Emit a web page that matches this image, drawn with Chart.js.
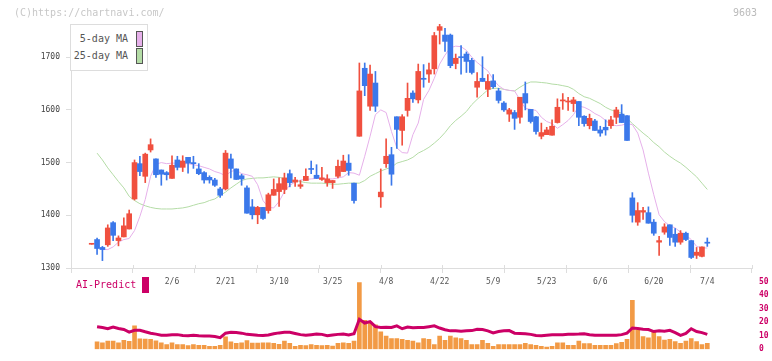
<!DOCTYPE html>
<html>
<head>
<meta charset="utf-8">
<script src="https://cdn.jsdelivr.net/npm/chart.js@4.4.1/dist/chart.umd.min.js"></script>
<style>
  body { margin: 0; background: #fff; }
  #wrap { position: relative; width: 772px; height: 361px; overflow: hidden; font-family: "DejaVu Sans Mono", monospace; }
  canvas { position: absolute; left: 0; }
  #priceChart { top: 0; }
  #volChart { top: 270px; }
  .txt { position: absolute; font-size: 10px; line-height: 12px; white-space: nowrap; }
  #copy { left: 14px; top: 7px; color: #c8c8c8; }
  #code { left: 733px; top: 7px; color: #bbb; }
  #legend { position: absolute; left: 70px; top: 24px; width: 78px; height: 47px; box-sizing: border-box;
            border: 1px solid #ddd; background: #fff; }
  .lg-text { position: absolute; right: 19px; font-size: 10px; line-height: 12px; color: #555; }
  .lg-box { position: absolute; left: 65px; width: 7px; height: 16px; box-sizing: border-box; border: 1px solid #555; }
  #aiLabel { left: 76px; top: 279px; color: #cc0066; }
  #aiBox { position: absolute; left: 142px; top: 277px; width: 7px; height: 16px; background: #cc0066; }
</style>
</head>
<body>
<div id="wrap">
  <canvas id="priceChart" width="772" height="300"></canvas>
  <canvas id="volChart" width="772" height="91"></canvas>
  <div id="copy" class="txt">(C)https://chartnavi.com/</div>
  <div id="code" class="txt">9603</div>
  <div id="legend"></div>
  <div id="aiLabel" class="txt">AI-Predict</div>
  <div id="aiBox"></div>
</div>
<script>
// daily candles, oldest first (last one is 7/4)
const opens = [1345,1354,1339,1344,1386,1352,1359,1374,1431,1498,1474,1524,1507,1486,1481,1470,1505,1491,1510,1500,
  1488,1481,1472,1467,1450,1450,1507,1488,1475,1452,1416,1401,1415,1409,1438,1445,1449,1479,1463,1455,
  1466,1488,1476,1468,1462,1462,1474,1483,1499,1461,1550,1679,1607,1651,1435,1498,1515,1587,1561,1599,
  1632,1619,1660,1668,1678,1751,1742,1742,1688,1701,1706,1694,1643,1660,1639,1655,1636,1613,1592,1595,
  1586,1631,1601,1587,1550,1553,1552,1576,1617,1615,1612,1616,1588,1570,1579,1562,1567,1570,1586,1592,
  1589,1433,1387,1406,1405,1387,1349,1368,1382,1364,1349,1366,1352,1324,1322,1349];
const highs = [1345,1357,1341,1382,1388,1361,1395,1410,1505,1512,1518,1545,1507,1486,1483,1513,1512,1513,1510,1512,
  1498,1483,1475,1470,1453,1523,1516,1488,1478,1456,1430,1417,1415,1442,1469,1471,1480,1486,1472,1466,
  1488,1503,1496,1491,1477,1466,1505,1514,1515,1461,1689,1689,1685,1673,1488,1545,1529,1587,1591,1651,
  1636,1687,1686,1689,1747,1763,1755,1744,1706,1722,1710,1698,1671,1701,1667,1667,1641,1616,1603,1599,
  1624,1653,1601,1588,1575,1567,1581,1621,1631,1624,1624,1616,1589,1592,1582,1569,1581,1588,1605,1610,
  1589,1443,1424,1415,1416,1392,1360,1384,1382,1375,1371,1368,1352,1339,1340,1357];
const lows = [1345,1326,1314,1341,1352,1342,1359,1374,1429,1475,1462,1520,1472,1457,1467,1470,1486,1483,1480,1489,
  1477,1461,1461,1455,1434,1448,1471,1468,1457,1404,1393,1384,1392,1404,1438,1417,1441,1454,1455,1451,
  1466,1479,1470,1466,1455,1451,1471,1483,1476,1423,1550,1627,1599,1597,1415,1491,1457,1527,1533,1588,
  1614,1613,1643,1652,1668,1725,1711,1680,1678,1668,1671,1668,1624,1654,1625,1641,1613,1597,1578,1563,
  1575,1600,1575,1554,1545,1553,1552,1575,1601,1599,1597,1570,1569,1564,1561,1550,1552,1565,1574,1576,
  1542,1387,1381,1392,1385,1362,1324,1364,1343,1341,1345,1352,1318,1318,1321,1341];
const closes = [1345,1337,1335,1376,1362,1357,1380,1403,1500,1483,1516,1534,1477,1478,1477,1495,1491,1503,1499,1498,
  1479,1467,1467,1457,1438,1518,1489,1468,1469,1404,1401,1415,1394,1439,1449,1460,1471,1462,1467,1458,
  1474,1487,1470,1471,1469,1466,1493,1503,1485,1428,1636,1646,1668,1607,1444,1512,1478,1563,1587,1622,
  1621,1673,1658,1676,1741,1758,1730,1684,1698,1699,1692,1671,1654,1654,1654,1644,1618,1600,1600,1584,
  1624,1613,1578,1559,1557,1562,1569,1605,1619,1616,1619,1586,1574,1584,1561,1556,1562,1581,1600,1576,
  1542,1400,1409,1409,1385,1366,1352,1378,1358,1349,1366,1354,1320,1330,1340,1347];

const ma5 = [null,null,1335,1335,1340,1349,1354,1356,1371,1398,1430,
  1474,1497,1500,1498,1499,1499,1498,1498,1496,1494,
  1491,1488,1483,1480,1475,1483,1486,1479,1477,1474,
  1458,1428,1415,1414,1426,1445,1457,1463,1467,1468,
  1469,1470,1471,1469,1469,1471,1473,1481,1480,1476,
  1512,1550,1591,1600,1595,1559,1528,1519,1518,1553,
  1575,1620,1637,1660,1687,1704,1718,1721,1720,1713,
  1700,1690,1682,1674,1658,1646,1639,1637,1636,1619,
  1603,1601,1599,1586,1578,1574,1565,1572,1580,1591,
  1607,1605,1600,1593,1588,1580,1572,1570,1571,1574,
  1572,1556,1524,1480,1439,1401,1388,1380,1376,1368,
  1362,1354,1341,1338,1338];
const ma25 = [null,1518,1505,1490,1477,1464,1452,1436,1428,1422,1418,
  1415,1413,1412,1412,1412,1413,1414,1416,1419,1422,
  1424,1428,1431,1438,1444,1452,1459,1466,1469,1470,
  1471,1471,1472,1473,1472,1470,1467,1466,1464,1462,
  1461,1461,1461,1460,1459,1459,1460,1461,1461,1461,
  1466,1474,1479,1484,1488,1491,1499,1502,1505,1510,
  1518,1523,1529,1537,1546,1557,1570,1580,1588,1597,
  1610,1620,1629,1638,1641,1641,1639,1637,1636,1643,
  1649,1653,1653,1652,1651,1649,1648,1646,1644,1639,
  1631,1625,1622,1617,1612,1605,1600,1597,1594,1584,
  1574,1565,1556,1548,1538,1530,1520,1512,1505,1499,
  1491,1482,1473,1461,1449];

const volume = [null,5.4,4.7,6.0,6.0,4.7,6.6,5.8,17.3,7.7,7.5,
  7.3,6.2,4.7,3.5,4.7,3.5,3.5,2.6,3.5,2.8,
  2.8,2.2,2.2,2.8,9.1,5.4,4.3,4.7,6.4,4.5,
  4.5,4.7,4.7,4.3,3.7,6.0,4.3,2.2,2.8,2.6,
  3.5,2.8,2.6,2.8,2.4,4.3,4.7,4.3,6.0,49.5,
  21.5,20.1,18.0,12.9,9.8,7.9,7.9,7.3,6.6,6.0,
  4.7,7.9,7.3,3.5,9.8,6.6,9.8,8.5,7.9,6.6,
  3.5,3.5,6.6,4.3,2.2,3.5,3.5,3.5,3.5,3.5,
  4.3,3.5,2.8,2.2,1.6,2.2,4.7,4.7,2.8,2.8,
  6.0,4.1,4.1,2.8,2.8,2.8,2.8,4.1,5.1,7.3,
  36.3,14.2,9.4,8.5,12.7,9.4,6.8,7.3,5.6,4.3,
  6.0,7.9,5.6,3.5,4.3];
const aiPredict = [null,16.7,16.1,15.2,16.5,15.4,14.6,12.7,14.0,14.0,12.9,
  11.9,11.2,10.4,10.4,10.8,10.8,10.2,10.0,10.4,10.0,
  9.8,9.8,9.4,8.5,11.9,12.5,12.3,11.9,11.0,10.8,
  10.4,10.2,10.6,11.5,12.1,12.5,12.5,11.7,10.8,10.4,
  10.8,11.2,11.0,10.0,10.6,11.0,11.2,10.6,11.5,22.2,
  19.4,20.5,16.7,16.1,16.3,16.1,17.3,15.2,16.5,15.9,
  16.1,16.1,16.7,17.3,15.7,14.4,13.6,13.6,13.3,13.6,
  13.8,14.8,14.6,13.6,12.1,13.1,13.6,13.8,11.9,11.7,
  11.5,11.0,10.2,10.0,10.4,10.8,10.8,10.8,11.0,11.0,
  11.2,11.5,10.8,10.4,10.4,10.4,10.4,10.4,10.8,11.9,
  15.7,15.4,14.8,14.6,13.1,13.6,13.3,14.0,12.3,10.2,
  11.7,15.2,13.1,12.3,11.0];

// date labels sit on every 10th candle, starting at candle 15
const dateLabels = ['2/6','2/21','3/10','3/25','4/8','4/22','5/9','5/23','6/6','6/20','7/4'];
const dateIdx = [15,25,35,45,55,65,75,85,95,105,115];
const priceTicks = [1300,1400,1500,1600,1700];
const aiTicks = [0,10,20,30,40,50];

const xMin = -3.87, xMax = 123.35;
const FONT = '"DejaVu Sans Mono", monospace';
const UP = '#f0503f', DOWN = '#3b78ea';

const idx = closes.map((c, i) => i);
const candleColor = idx.map(i => closes[i] >= opens[i] ? UP : DOWN);
const pts = arr => arr.map((v, i) => ({ x: i, y: v }));

// x tick marks cross the axis line: draw the short part above it
const innerTicks = {
  id: 'innerTicks',
  afterDraw(chart) {
    const s = chart.scales.x, ctx = chart.ctx, b = chart.chartArea.bottom;
    ctx.save();
    ctx.strokeStyle = '#dddddd';
    ctx.lineWidth = 1;
    s.ticks.forEach(t => {
      const px = Math.round(s.getPixelForValue(t.value)) + 0.5;
      ctx.beginPath();
      ctx.moveTo(px, b - 3);
      ctx.lineTo(px, b);
      ctx.stroke();
    });
    ctx.restore();
  }
};

const priceChart = new Chart(document.getElementById('priceChart'), {
  type: 'bar',
  data: {
    datasets: [
      { type: 'line', label: '5-day MA', data: pts(ma5), borderColor: '#e6b0ea', backgroundColor: '#e6b0ea',
        borderWidth: 1, pointRadius: 0, order: 5 },
      { type: 'line', label: '25-day MA', data: pts(ma25), borderColor: '#b4dca6', backgroundColor: '#b4dca6',
        borderWidth: 1, pointRadius: 0, order: 5 },
      { label: 'wick', data: idx.map(i => ({ x: i, y: [lows[i], highs[i]] })), backgroundColor: candleColor,
        barThickness: 1, grouped: false, order: 2 },
      { label: 'body', data: idx.map(i => ({ x: i, y: [opens[i], closes[i]] })), backgroundColor: candleColor,
        barThickness: 5, minBarLength: 1, grouped: false, order: 1 }
    ]
  },
  options: {
    responsive: false,
    animation: false,
    layout: { padding: { left: 0, right: 20, top: 24, bottom: 7 } },
    plugins: { legend: { display: false }, tooltip: { enabled: false } },
    scales: {
      x: {
        type: 'linear', min: xMin, max: xMax, position: 'bottom', offset: false,
        afterBuildTicks: s => {
          const step = (xMax - xMin) / 11;
          s.ticks = Array.from({ length: 12 }, (_, k) => ({ value: xMin + k * step }));
        },
        ticks: { display: false },
        grid: { drawOnChartArea: false, color: '#dddddd', tickLength: 5, offset: false },
        border: { color: '#dddddd' },
        afterFit: s => { s.height = 5; }
      },
      xd: {
        type: 'linear', min: xMin, max: xMax, position: 'bottom', offset: false,
        afterBuildTicks: s => { s.ticks = dateIdx.map(v => ({ value: v })); },
        ticks: {
          callback: v => dateLabels[dateIdx.indexOf(v)],
          font: { family: FONT, size: 8 }, color: '#555', padding: 4, maxRotation: 0, autoSkip: false
        },
        grid: { display: false, drawTicks: false },
        border: { display: false },
        afterFit: s => { s.height = 20; }
      },
      y: {
        min: 1300, max: 1763,
        afterBuildTicks: s => { s.ticks = priceTicks.map(v => ({ value: v })); },
        ticks: { callback: v => String(v), font: { family: FONT, size: 8 }, color: '#444', padding: 6 },
        grid: { drawOnChartArea: false, color: '#dddddd', tickLength: 5 },
        border: { color: '#dddddd' },
        afterFit: s => { s.width = 71; }
      }
    }
  },
  plugins: [innerTicks]
});

new Chart(document.getElementById('volChart'), {
  type: 'bar',
  data: {
    datasets: [
      { type: 'line', label: 'AI-Predict', data: pts(aiPredict), yAxisID: 'y', borderColor: '#cc0066',
        borderWidth: 3, pointRadius: 0, order: 1 },
      { label: 'Volume', data: pts(volume), yAxisID: 'yv', backgroundColor: '#f29a45',
        barThickness: 4, grouped: false, order: 2 }
    ]
  },
  options: {
    responsive: false,
    animation: false,
    layout: { padding: { left: 71, right: 0, top: 8, bottom: 3 } },
    plugins: { legend: { display: false }, tooltip: { enabled: false } },
    scales: {
      x: { type: 'linear', min: xMin, max: xMax, display: false, offset: false },
      y: {
        position: 'right', min: 0, max: 50,
        afterBuildTicks: s => { s.ticks = aiTicks.map(v => ({ value: v })); },
        ticks: { font: { family: FONT, size: 8, weight: 'bold' }, color: '#cc0066', padding: 7 },
        grid: { display: false, drawTicks: false },
        border: { display: false },
        afterFit: s => { s.width = 20; }
      },
      yv: { display: false, min: 0, max: 50 }
    }
  }
});

// legend box built from the MA datasets
const legend = document.getElementById('legend');
priceChart.data.datasets.filter(d => d.type === 'line').forEach((d, k) => {
  const t = document.createElement('div');
  t.className = 'lg-text';
  t.style.top = (8 + k * 17) + 'px';
  t.textContent = d.label;
  const b = document.createElement('div');
  b.className = 'lg-box';
  b.style.top = (6 + k * 17) + 'px';
  b.style.background = d.borderColor;
  legend.appendChild(t);
  legend.appendChild(b);
});
</script>
</body>
</html>
